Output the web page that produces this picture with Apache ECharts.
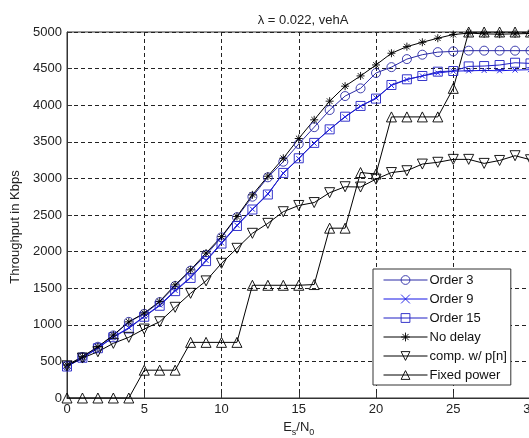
<!DOCTYPE html>
<html>
<head>
<meta charset="utf-8">
<script src="https://cdn.jsdelivr.net/npm/echarts@6/dist/echarts.min.js"></script>
<style>
  html, body { margin: 0; padding: 0; background: #fff; }
  #chart { width: 529px; height: 438px; }
</style>
</head>
<body>
<div id="chart"></div>
<script>
// Es/N0 in dB
var esn0 = [0, 1, 2, 3, 4, 5, 6, 7, 8, 9, 10, 11, 12, 13, 14, 15, 16, 17, 18, 19, 20, 21, 22, 23, 24, 25, 26, 27, 28, 29, 30];

// throughput in Kbps
var order3 = [440, 560, 700, 855, 1040, 1150, 1310, 1530, 1740, 1955, 2195, 2470, 2750, 3015, 3228, 3470, 3700, 3934, 4125, 4230, 4440, 4520, 4630, 4690, 4725, 4735, 4745, 4745, 4745, 4745, 4745];
var order9 = [430, 545, 685, 835, 960, 1115, 1270, 1470, 1650, 1880, 2120, 2360, 2580, 2790, 3070, 3270, 3480, 3670, 3840, 3985, 4100, 4270, 4350, 4400, 4440, 4465, 4470, 4475, 4470, 4480, 4485];
var order15 = [430, 550, 680, 830, 950, 1110, 1260, 1460, 1640, 1870, 2110, 2350, 2575, 2780, 3075, 3275, 3485, 3670, 3843, 3990, 4090, 4276, 4354, 4399, 4458, 4467, 4530, 4535, 4549, 4580, 4571];
var noDelay = [450, 565, 700, 860, 1040, 1160, 1320, 1545, 1750, 1980, 2205, 2480, 2775, 3030, 3275, 3545, 3800, 4055, 4260, 4400, 4550, 4710, 4800, 4860, 4915, 4965, 4985, 4975, 4970, 4975, 4980];
var compPn = [440, 546, 632, 747, 829, 942, 1042, 1239, 1430, 1600, 1840, 2045, 2250, 2386, 2545, 2630, 2670, 2805, 2886, 2882, 2990, 3080, 3105, 3196, 3220, 3260, 3260, 3205, 3245, 3310, 3255];
var fixedPower = [0, 0, 0, 0, 0, 380, 380, 380, 760, 760, 760, 760, 1540, 1540, 1540, 1540, 1550, 2320, 2320, 3080, 3060, 3840, 3840, 3840, 3840, 4230, 5000, 5000, 5000, 5000, 5000];

var yTicks = [0, 500, 1000, 1500, 2000, 2500, 3000, 3500, 4000, 4500, 5000];

var FONT = "'Liberation Sans', Arial, sans-serif";
// outline-only markers, drawn as paths so the stroke stays thin
var circle = 'path://M10,5A5,5,0,1,1,0,5A5,5,0,1,1,10,5Z';
var square = 'path://M0,0L10,0L10,10L0,10Z';
var triUp = 'path://M5,0L10,9L0,9Z';
var triDown = 'path://M0,0L10,0L5,9Z';
var xMark = 'path://M0,0L10,10M10,0L0,10';
var star = 'path://M5,0L5,10M0,5L10,5M1.5,1.5L8.5,8.5M8.5,1.5L1.5,8.5';

function pairs(vals) {
  return esn0.map(function (x, i) { return [x, vals[i]]; });
}

function line(name, vals, color, symbol, size) {
  return {
    name: name,
    type: 'line',
    data: pairs(vals),
    symbol: symbol,
    symbolSize: size,
    showAllSymbol: true,
    lineStyle: { color: color, width: 1 },
    itemStyle: { color: 'rgba(255,255,255,0)', borderColor: color, borderWidth: 0.9 },
    emphasis: { disabled: true }
  };
}

var chart = echarts.init(document.getElementById('chart'));
chart.setOption({
  animation: false,
  backgroundColor: '#fff',
  textStyle: { fontFamily: FONT },
  title: {
    text: 'λ = 0.022, vehA',
    left: 298, top: 9, textAlign: 'center',
    textStyle: { fontSize: 13, fontWeight: 'normal', color: '#222', fontFamily: FONT }
  },
  grid: {
    left: 67, top: 32, width: 463.5, height: 366,
    containLabel: false, outerBoundsMode: 'none',
    show: true, borderColor: '#333', borderWidth: 1, backgroundColor: '#fff'
  },
  legend: {
    orient: 'vertical',
    left: 373, top: 269,
    padding: [4, 4, 3, 10],
    itemWidth: 44, itemHeight: 11, itemGap: 5,
    borderColor: '#333', borderWidth: 1, backgroundColor: '#fff',
    lineStyle: { width: 1 },
    itemStyle: { borderWidth: 0.9 },
    textStyle: { fontSize: 13, lineHeight: 14, color: '#111', fontFamily: FONT, padding: [0, 0, 0, -3] },
    data: ['Order 3', 'Order 9', 'Order 15', 'No delay', 'comp. w/ p[n]', 'Fixed power']
  },
  xAxis: {
    type: 'value', min: 0, max: 30, interval: 5,
    name: '{a|E}{sub|s}{a|/N}{sub|0}',
    nameLocation: 'middle', nameGap: 23,
    nameTextStyle: {
      rich: {
        a: { fontSize: 13, lineHeight: 14, verticalAlign: 'top', color: '#222', fontFamily: FONT },
        sub: { fontSize: 9, lineHeight: 24, color: '#222', fontFamily: FONT }
      }
    },
    axisLine: { lineStyle: { color: '#333' } },
    axisTick: { inside: true, length: 5, lineStyle: { color: '#333' } },
    axisLabel: { fontSize: 13, color: '#222', margin: 5, fontFamily: FONT },
    splitLine: { show: true, lineStyle: { color: '#222', type: [4, 3], width: 1 } }
  },
  yAxis: {
    type: 'value', min: yTicks[0], max: yTicks[yTicks.length - 1], interval: 500,
    name: 'Throughput in Kbps',
    nameLocation: 'middle', nameGap: 44,
    nameTextStyle: { fontSize: 13, color: '#222', fontFamily: FONT, padding: [0, 24, 0, 0] },
    axisLine: { show: true, lineStyle: { color: '#333' } },
    axisTick: { show: true, inside: true, length: 5, lineStyle: { color: '#333' } },
    axisLabel: { fontSize: 13, color: '#222', margin: 5, fontFamily: FONT, formatter: function (v) { return String(v); } },
    splitLine: { show: true, lineStyle: { color: '#222', type: [4, 3], width: 1 } }
  },
  series: [
    line('Order 3', order3, '#2b2ba6', circle, 9),
    line('Order 9', order9, '#1414e6', xMark, 5),
    line('Order 15', order15, '#1f1fc4', square, 9),
    line('No delay', noDelay, '#000', star, 8),
    line('comp. w/ p[n]', compPn, '#000', triDown, 10),
    line('Fixed power', fixedPower, '#000', triUp, 10)
  ]
});
</script>
</body>
</html>
